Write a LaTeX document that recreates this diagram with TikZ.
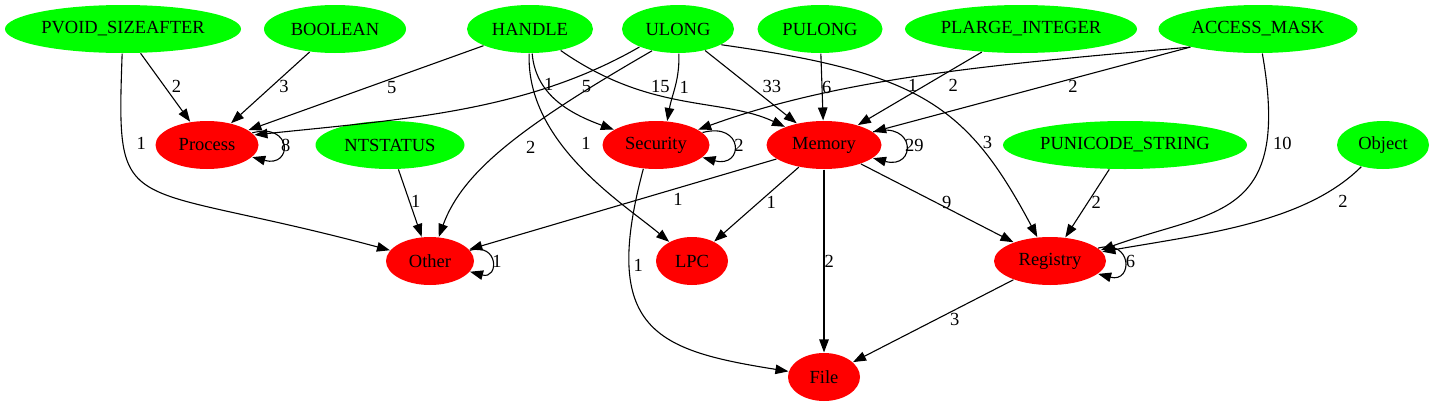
\documentclass[tikz,border=0pt]{standalone}
\usepackage{fontspec}
\setmainfont{Liberation Serif}
\usetikzlibrary{arrows.meta,shapes.geometric}

\definecolor{argcol}{RGB}{0,255,0}
\definecolor{catcol}{RGB}{255,0,0}

\tikzset{
	arg/.style={ellipse, fill=argcol, inner sep=0pt, minimum height=48pt},
	cat/.style={ellipse, fill=catcol, inner sep=0pt, minimum height=48pt},
	lbl/.style={inner sep=1pt},
	selfloop/.style={out=15, in=-15, distance=#1},
}

\begin{document}
\begin{tikzpicture}[x=1pt, y=-1pt, font=\fontsize{18.5}{22}\selectfont,
	>={Triangle[length=13pt,width=9.5pt]}, line width=1.1pt]
\useasboundingbox (0,0) rectangle (1434,407);

% argument types
\node[arg, minimum width=236pt] (pvoid) at (123,29) {PVOID\_SIZEAFTER};
\node[arg, minimum width=142pt] (boolean) at (335,29) {BOOLEAN};
\node[arg, minimum width=126pt] (handle) at (530,29) {HANDLE};
\node[arg, minimum width=112pt] (ulong) at (678,29) {ULONG};
\node[arg, minimum width=125pt] (pulong) at (820,29) {PULONG};
\node[arg, minimum width=232pt] (plarge) at (1021,29) {PLARGE\_INTEGER};
\node[arg, minimum width=199pt] (access) at (1258,29) {ACCESS\_MASK};
\node[arg, minimum width=149pt] (ntstatus) at (390,145) {NTSTATUS};
\node[arg, minimum width=244pt] (punicode) at (1125,145) {PUNICODE\_STRING};
\node[arg, minimum width=92pt] (object) at (1383,145) {Object};

% categories
\node[cat, minimum width=103pt] (proc) at (207,145) {Process};
\node[cat, minimum width=107pt] (sec) at (656,145) {Security};
\node[cat, minimum width=115pt] (mem) at (824,145) {Memory};
\node[cat, minimum width=88pt] (other) at (430,261) {Other};
\node[cat, minimum width=72pt] (lpc) at (692,261) {LPC};
\node[cat, minimum width=112pt] (reg) at (1050,261) {Registry};
\node[cat, minimum width=72pt] (file) at (824,377) {File};

\path[->]
(pvoid) edge node[lbl, pos=0.48, right=6pt] {2} (proc)
(pvoid) edge[out=-92, in=165, out distance=170pt, in distance=280pt] node[lbl, pos=0.24, right=12pt] {1} (other)
(boolean) edge node[lbl, pos=0.48, right=6pt] {3} (proc)
(handle) edge node[lbl, pos=0.39, below=1pt] {5} (proc)
(handle) edge[out=-85, in=160, out distance=40pt, in distance=50pt] node[lbl, pos=0.3, right=0pt] {1} (sec)
(handle) edge[out=-92, in=140, out distance=90pt, in distance=60pt] node[lbl, pos=0.38, right=19pt] {1} (lpc)
(handle.-35) edge[out=-35, in=155, out distance=110pt, in distance=70pt] node[lbl, pos=0.4, above=2pt] {15} (mem)
(ulong.-155) edge[out=-150, in=6, out distance=130pt, in distance=148pt] node[lbl, pos=0.22, right=17pt, yshift=-4pt] {5} (proc.12)
(ulong.-140) edge[out=-150, in=70, out distance=150pt, in distance=70pt] node[lbl, pos=0.5, right=19pt] {2} (other)
(ulong) edge[out=-88, in=80] node[lbl, pos=0.5, right=3pt] {1} (sec.65)
(ulong) edge node[lbl, pos=0.49, right=11pt] {33} (mem)
(ulong.-20) edge[out=-8, in=118, out distance=200pt, in distance=150pt] node[lbl, pos=0.7, right=6pt] {3} (reg)
(pulong) edge node[lbl, pos=0.5, right=-1.5pt] {6} (mem)
(plarge) edge node[lbl, pos=0.45, right=21pt] {2} (mem)
(access.-165) edge[out=-175, in=20, out distance=200pt, in distance=150pt] node[lbl, pos=0.52, below=1pt] {1} (sec)
(access) edge node[lbl, pos=0.37, below=0.5pt] {2} (mem)
(access.-80) edge[out=-80, in=20, out distance=170pt, in distance=120pt] node[lbl, pos=0.23, right=5pt] {10} (reg.12)
(ntstatus) edge node[lbl, pos=0.48, right=0pt] {1} (other)
(mem) edge node[lbl, pos=0.32, below=4pt] {1} (other)
(mem) edge node[lbl, pos=0.47, right=6pt] {1} (lpc)
(mem) edge node[lbl, pos=0.5, right=-1pt] {2} (file)
(mem) edge node[lbl, pos=0.49, right=5pt] {9} (reg)
(sec.-118) edge[out=-105, in=171, out distance=167pt, in distance=134pt] node[lbl, pos=0.25, right=3pt] {1} (file)
(punicode) edge node[lbl, pos=0.48, right=2pt] {2} (reg)
(object) edge[out=-135, in=10, out distance=80pt, in distance=100pt] node[lbl, pos=0.15, below right=4pt] {2} (reg.10)
(reg) edge node[lbl, pos=0.48, right=12pt] {3} (file)
;
% self loops
\path[->]
(proc) edge[selfloop=42pt] node[lbl, right=-3pt] {8} (proc)
(sec) edge[selfloop=43pt] node[lbl, right=-1pt] {2} (sec)
(mem) edge[selfloop=45pt] node[lbl, right=-2pt] {29} (mem)
(other) edge[selfloop=30pt] node[lbl, right=-1pt] {1} (other)
(reg) edge[selfloop=36pt] node[lbl, right=0pt] {6} (reg)
;
\end{tikzpicture}
\end{document}
